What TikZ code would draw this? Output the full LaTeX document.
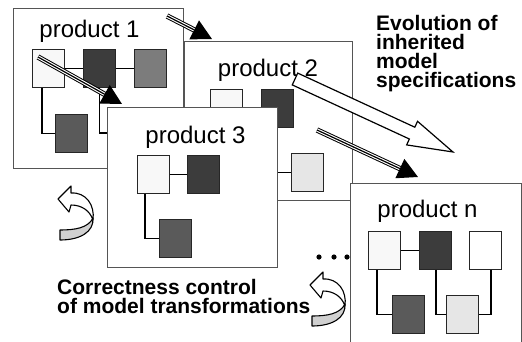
\documentclass[tikz,border=0pt]{standalone}
\usepackage{fontspec}
\setmainfont{Liberation Sans}
\usepackage{tikz}
\usetikzlibrary{arrows.meta,positioning,calc}
\definecolor{modLight}{HTML}{F8F8F8}
\definecolor{modDark}{HTML}{3C3C3C}
\definecolor{modMid}{HTML}{7C7C7C}
\definecolor{modDeep}{HTML}{5A5A5A}
\definecolor{modPale}{HTML}{E6E6E6}
\definecolor{ribbonGray}{HTML}{D0D0D0}
\definecolor{frameLine}{HTML}{555555}

\begin{document}
\begin{tikzpicture}[
  x=1pt, y=-1pt,
  font=\fontsize{24}{28}\selectfont,
  frame/.style={draw=frameLine, fill=white, line width=0.9pt, inner sep=0pt, anchor=north west},
  mod/.style={draw=black!85, line width=0.8pt, inner sep=0pt, minimum width=32pt, minimum height=38pt, anchor=north west},
  link/.style={line width=1.8pt},
  title/.style={anchor=base, inner sep=0pt},
  note/.style={font=\bfseries\fontsize{21}{19}\selectfont, align=left, inner sep=0pt, anchor=north west},
  inherit/.style={line width=1.2pt, -{Triangle[length=20pt,width=21pt]},
    preaction={draw, line width=5.4pt, shorten >=12pt, arrows=-},
    preaction={draw, white, line width=3.4pt, shorten >=12pt, arrows=-}},
  hollow/.style={draw, fill=white, line width=1.2pt, line join=miter},
  turn/.pic={
    \filldraw[fill=ribbonGray, line width=1.1pt, line join=round]
      (35,19) .. controls (36,33) and (22,41) .. (2,41) -- (2,31)
      .. controls (17,31) and (30,29) .. (35,19) -- cycle;
    \filldraw[fill=white, line width=1.1pt, line join=round]
      (0,0) -- (13,-13) -- (13,-6) .. controls (28,-7) and (37,6) .. (35,21)
      .. controls (32,12) and (24,6) .. (13,6) -- (11,13) -- cycle;
  },
]
\useasboundingbox (0,0) rectangle (522,341);
\clip (0,0) rectangle (522,341);

% product 1
\node[frame, minimum width=170pt, minimum height=160pt] (prod1) at (13,8) {};
\node[title] (lab1) at (89.5,37) {product 1};
\node[mod, fill=modLight] (p1a) at (32,49) {};
\node[mod, fill=modDark] (p1b) at (83,49) {};
\node[mod, fill=modMid] (p1c) at (134,49) {};
\node[mod, fill=modDeep] (p1d) at (55,114) {};
\coordinate (p1end) at (112,133);
\draw[link] (p1a.east) -- (p1b.west);
\draw[link] (p1b.east) -- (p1c.west);
\draw[link] ([xshift=10pt]p1a.south west) |- (p1d.west);
\draw[link] (p1b.south) |- (p1end);

\coordinate (t13a) at (38,57);
\coordinate (t13b) at (122,104);
\draw[inherit] (t13a) -- (t13b);

% product 2
\node[frame, minimum width=168pt, minimum height=159pt] (prod2) at (184,41) {};
\node[title] (lab2) at (268,76) {product 2};
\node[mod, fill=modLight] (p2a) at (210,89) {};
\node[mod, fill=modDark] (p2b) at (261,89) {};
\node[mod, fill=modPale] (p2e) at (291,153) {};
\draw[link] (p2a.east) -- (p2b.west);
\draw[link] ([xshift=14pt]p2b.south west) |- (p2e.west);

\coordinate (t12a) at (167,16);
\coordinate (t12b) at (212,39);
\draw[inherit] (t12a) -- (t12b);

% evolution arrow
\begin{scope}[shift={(295,79)}, rotate=-24.8]
  \draw[hollow] (0,-6.5) -- (129,-6.5) -- (129,-13) -- (174,0) -- (129,13) -- (129,6.5) -- (0,6.5) -- cycle;
\end{scope}

\coordinate (t2na) at (317,130);
\coordinate (t2nb) at (418,177);
\draw[inherit] (t2na) -- (t2nb);

% product 3
\node[frame, minimum width=170pt, minimum height=160pt] (prod3) at (107,107) {};
\node[title] (lab3) at (195.5,143) {product 3};
\node[mod, fill=modLight] (p3a) at (137,155) {};
\node[mod, fill=modDark] (p3b) at (187,155) {};
\node[mod, fill=modDeep] (p3d) at (159,219) {};
\draw[link] (p3a.east) -- (p3b.west);
\draw[link] ([xshift=8pt]p3a.south west) |- (p3d.west);

% product n
\node[frame, minimum width=171pt, minimum height=170pt] (prodn) at (350,183) {};
\node[title] (labn) at (427.5,217) {product n};
\node[mod, fill=modLight] (pna) at (368,231) {};
\node[mod, fill=modDark] (pnb) at (419,231) {};
\node[mod, fill=white] (pnc) at (469,231) {};
\node[mod, fill=modDeep] (pnd) at (392,295) {};
\node[mod, fill=modPale] (pne) at (446,295) {};
\draw[link] (pna.east) -- (pnb.west);
\draw[link] ([xshift=9pt]pna.south west) |- (pnd.west);
\draw[link] ([xshift=17pt]pnb.south west) |- (pne.west);
\draw[link] ([xshift=22pt]pnc.south west) |- (pne.east);

\foreach \x in {319,334,347}
  \fill (\x,257) circle (2.6);

\pic at (58,199) {turn};
\pic at (310,285) {turn};

\node[note] (evol) at (376,14.7) {Evolution of\\inherited\\model\\specifications};
\node[note] (check) at (57,279.5) {Correctness control\\of model transformations};
\end{tikzpicture}
\end{document}
